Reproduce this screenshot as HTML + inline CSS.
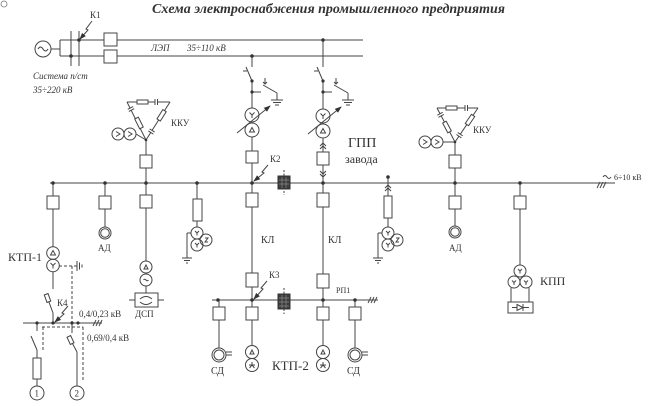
<!DOCTYPE html>
<html><head><meta charset="utf-8"><style>
html,body{margin:0;padding:0;background:#fff;}
svg{display:block;}
text{font-family:"Liberation Serif","DejaVu Serif",serif;fill:#333;stroke:none;}
</style></head><body>
<svg width="661" height="406" viewBox="0 0 661 406" xmlns="http://www.w3.org/2000/svg">
<defs>
<marker id="ah" markerWidth="7" markerHeight="6" refX="6" refY="3" orient="auto" markerUnits="userSpaceOnUse"><path d="M0,0.5 L7,3 L0,5.5 Z" fill="#333"/></marker>
</defs>

<text x="152" y="13" font-size="14" font-weight="bold" font-style="italic" textLength="353" lengthAdjust="spacingAndGlyphs">Схема электроснабжения промышленного предприятия</text>
<circle cx="4" cy="4" r="3" fill="none" stroke="#777" stroke-width="0.8"/>

<g stroke="#444" stroke-width="1" fill="none">
<!-- generator and LEP -->
<circle cx="43" cy="49" r="8"/>
<path d="M38,49 q2.5,-4 5,0 t5,0"/>
<line x1="51" y1="49" x2="60" y2="49"/>
<line x1="60" y1="40" x2="60" y2="56"/>
<line x1="60" y1="40" x2="104" y2="40"/>
<line x1="60" y1="56" x2="104" y2="56"/>
<line x1="71" y1="31" x2="71" y2="66"/>
<line x1="79" y1="31" x2="79" y2="66"/>
<rect x="104" y="33" width="13" height="13" fill="#fff"/>
<rect x="104" y="50" width="13" height="13" fill="#fff"/>
<line x1="117" y1="40" x2="363" y2="40"/>
<line x1="117" y1="56" x2="363" y2="56"/>
<polyline points="92,21 86,29 88,30 80,39" marker-end="url(#ah)"/>

<!-- GPP branch A x=252 -->
<line x1="252" y1="56" x2="252" y2="67"/>
<line x1="252" y1="81" x2="246" y2="67"/>
<line x1="243" y1="71" x2="247" y2="71"/>
<line x1="252" y1="81" x2="252" y2="108"/>
<line x1="252" y1="92" x2="261" y2="92"/>
<line x1="263" y1="85" x2="277" y2="93"/>
<line x1="277" y1="93" x2="277" y2="100"/>
<line x1="271" y1="100" x2="283" y2="100"/>
<line x1="273" y1="102.5" x2="281" y2="102.5"/>
<line x1="275" y1="105" x2="279" y2="105"/>
<line x1="265" y1="78" x2="265" y2="84"/>
<path d="M263,82 L265,84 L267,82"/>
<circle cx="252" cy="115" r="7"/>
<circle cx="252" cy="130" r="7"/>
<path d="M249.5,112.5 L252,115 L254.5,112.5 M252,115 L252,118"/>
<path d="M249.5,132 L252,127.5 L254.5,132 Z"/>
<line x1="237" y1="133" x2="270" y2="106" marker-end="url(#ah)"/>
<line x1="252" y1="137" x2="252" y2="151"/>
<rect x="246" y="151" width="12" height="12" fill="#fff"/>
<line x1="252" y1="163" x2="252" y2="183"/>
<polyline points="268,165 262,172 264,173 254,181" marker-end="url(#ah)"/>

<!-- GPP branch B x=323 -->
<line x1="323" y1="40" x2="323" y2="67"/>
<line x1="323" y1="81" x2="317" y2="67"/>
<line x1="314" y1="71" x2="318" y2="71"/>
<line x1="323" y1="81" x2="323" y2="109"/>
<line x1="323" y1="92" x2="332" y2="92"/>
<line x1="334" y1="85" x2="348" y2="93"/>
<line x1="348" y1="93" x2="348" y2="100"/>
<line x1="342" y1="100" x2="354" y2="100"/>
<line x1="344" y1="102.5" x2="352" y2="102.5"/>
<line x1="346" y1="105" x2="350" y2="105"/>
<line x1="336" y1="78" x2="336" y2="84"/>
<path d="M334,82 L336,84 L338,82"/>
<circle cx="323" cy="116" r="7"/>
<circle cx="323" cy="131" r="7"/>
<path d="M320.5,113.5 L323,116 L325.5,113.5 M323,116 L323,119"/>
<path d="M320.5,133 L323,128.5 L325.5,133 Z"/>
<line x1="308" y1="134" x2="341" y2="107" marker-end="url(#ah)"/>
<line x1="323" y1="138" x2="323" y2="152"/>
<path d="M320,146 L323,143 L326,146 M320,149 L323,146 L326,149"/>
<rect x="317" y="152" width="12" height="13" fill="#fff"/>
<line x1="323" y1="165" x2="323" y2="183"/>
<path d="M320,171 L323,174 L326,171 M320,174 L323,177 L326,174"/>

<!-- main bus -->
<line x1="50" y1="183" x2="615" y2="183"/>
<path d="M603,177 q2,-3 4,0 t4,0"/>
<line x1="597" y1="188" x2="600" y2="182"/>
<line x1="600" y1="188" x2="603" y2="182"/>
<line x1="603" y1="188" x2="606" y2="182"/>

<!-- left KKU -->
<line x1="127" y1="102" x2="170" y2="102"/>
<line x1="127" y1="102" x2="146" y2="140"/>
<line x1="170" y1="102" x2="146" y2="140"/>
<rect x="137" y="100" width="11" height="4" fill="#fff"/>
<rect x="155" y="100" width="2" height="4" fill="#fff" stroke="none"/>
<line x1="155" y1="99" x2="155" y2="105"/>
<line x1="157.5" y1="99" x2="157.5" y2="105"/>
<g transform="translate(131,109) rotate(63.4)"><rect x="-1.2" y="-1" width="2.4" height="2" fill="#fff" stroke="none"/><line x1="-1.2" y1="-3" x2="-1.2" y2="3"/><line x1="1.2" y1="-3" x2="1.2" y2="3"/></g>
<g transform="translate(139,123) rotate(63.4)"><rect x="-5.5" y="-2" width="11" height="4" fill="#fff"/></g>
<g transform="translate(161.6,115.3) rotate(122.3)"><rect x="-5.5" y="-2" width="11" height="4" fill="#fff"/></g>
<g transform="translate(151.5,131.5) rotate(122.3)"><rect x="-1.2" y="-1" width="2.4" height="2" fill="#fff" stroke="none"/><line x1="-1.2" y1="-3" x2="-1.2" y2="3"/><line x1="1.2" y1="-3" x2="1.2" y2="3"/></g>
<circle cx="118" cy="134" r="6"/>
<circle cx="130" cy="134" r="6"/>
<path d="M116,131.5 L120,134 L116,136.5 M128,131.5 L132,134 L128,136.5"/>
<line x1="136" y1="134" x2="146" y2="140"/>
<line x1="146" y1="140" x2="146" y2="155"/>
<rect x="140" y="155" width="12" height="13" fill="#fff"/>
<line x1="146" y1="168" x2="146" y2="183"/>

<!-- right KKU -->
<line x1="437" y1="108" x2="478" y2="108"/>
<line x1="437" y1="108" x2="455" y2="142"/>
<line x1="478" y1="108" x2="455" y2="142"/>
<rect x="446" y="106" width="11" height="4" fill="#fff"/>
<rect x="465" y="106" width="2" height="4" fill="#fff" stroke="none"/>
<line x1="465" y1="105" x2="465" y2="111"/>
<line x1="467.5" y1="105" x2="467.5" y2="111"/>
<g transform="translate(440.6,114.8) rotate(62.1)"><rect x="-1.2" y="-1" width="2.4" height="2" fill="#fff" stroke="none"/><line x1="-1.2" y1="-3" x2="-1.2" y2="3"/><line x1="1.2" y1="-3" x2="1.2" y2="3"/></g>
<g transform="translate(447,127) rotate(62.1)"><rect x="-5.5" y="-2" width="11" height="4" fill="#fff"/></g>
<g transform="translate(470,120) rotate(124.1)"><rect x="-5.5" y="-2" width="11" height="4" fill="#fff"/></g>
<g transform="translate(459.6,135.2) rotate(124.1)"><rect x="-1.2" y="-1" width="2.4" height="2" fill="#fff" stroke="none"/><line x1="-1.2" y1="-3" x2="-1.2" y2="3"/><line x1="1.2" y1="-3" x2="1.2" y2="3"/></g>
<circle cx="425" cy="142" r="6"/>
<circle cx="437" cy="142" r="6"/>
<path d="M423,139.5 L427,142 L423,144.5 M435,139.5 L439,142 L435,144.5"/>
<line x1="443" y1="142" x2="455" y2="142"/>
<line x1="455" y1="142" x2="455" y2="155"/>
<rect x="449" y="155" width="12" height="13" fill="#fff"/>
<line x1="455" y1="168" x2="455" y2="183"/>

<!-- column x=53 KTP-1 -->
<line x1="53" y1="183" x2="53" y2="196"/>
<rect x="47" y="196" width="12" height="13" fill="#fff"/>
<line x1="53" y1="209" x2="53" y2="247"/>
<circle cx="53" cy="253" r="6.3"/>
<circle cx="53" cy="265.5" r="6.3"/>
<path d="M50.5,255 L53,250.5 L55.5,255 Z"/>
<path d="M50.5,263 L53,265.5 L55.5,263 M53,265.5 L53,268.5"/>
<line x1="53" y1="272" x2="53" y2="289"/>
<line x1="53" y1="313" x2="46" y2="294"/>
<g transform="translate(47.5,298) rotate(-20)"><rect x="-2" y="-4" width="4" height="8" fill="#fff"/></g>
<line x1="53" y1="313" x2="53" y2="323"/>
<polyline points="68,306 62,313 64,314 55,322" marker-end="url(#ah)"/>
<line x1="23" y1="323" x2="102" y2="323"/>
<line x1="93" y1="326" x2="96" y2="320"/>
<line x1="96" y1="326" x2="99" y2="320"/>
<line x1="99" y1="326" x2="102" y2="320"/>
<g stroke-dasharray="3,2">
<line x1="59" y1="266" x2="77" y2="266"/>
<line x1="72" y1="266" x2="72" y2="323"/>
<line x1="42" y1="327" x2="83" y2="327"/>
<line x1="43" y1="327" x2="43" y2="352"/>
<line x1="83" y1="327" x2="83" y2="382"/>
</g>
<line x1="77" y1="261" x2="77" y2="271"/>
<line x1="79.5" y1="262.5" x2="79.5" y2="269.5"/>
<line x1="82" y1="264.5" x2="82" y2="267.5"/>
<!-- branch 1 -->
<line x1="37" y1="323" x2="37" y2="331"/>
<line x1="31" y1="336" x2="37" y2="350"/>
<line x1="37" y1="350" x2="37" y2="358"/>
<rect x="33" y="358" width="8" height="21" fill="#fff"/>
<line x1="37" y1="379" x2="37" y2="386"/>
<circle cx="37" cy="393" r="7"/>
<!-- branch 2 -->
<line x1="72" y1="323" x2="72" y2="333"/>
<line x1="69" y1="337" x2="77" y2="352"/>
<g transform="translate(70.5,340) rotate(-25)"><rect x="-2" y="-4" width="4" height="8" fill="#fff"/></g>
<line x1="77" y1="352" x2="77" y2="386"/>
<circle cx="77" cy="393" r="7"/>

<!-- column x=105 AD -->
<line x1="105" y1="183" x2="105" y2="196"/>
<rect x="99" y="196" width="12" height="13" fill="#fff"/>
<line x1="105" y1="209" x2="105" y2="227"/>
<circle cx="105" cy="233" r="6"/>
<circle cx="105" cy="233" r="4.3"/>

<!-- column x=146 DSP -->
<line x1="146" y1="183" x2="146" y2="195"/>
<rect x="140" y="195" width="12" height="13" fill="#fff"/>
<line x1="146" y1="208" x2="146" y2="261"/>
<circle cx="146" cy="267" r="6"/>
<circle cx="146" cy="280" r="6"/>
<path d="M144,269 L146,265 L148,269 Z"/>
<path d="M143.5,280 q1.2,-1.5 2.5,0 t2.5,0"/>
<line x1="146" y1="286" x2="146" y2="293"/>
<rect x="135" y="293" width="23" height="14" fill="#fff"/>
<line x1="129" y1="300" x2="135" y2="300"/>
<line x1="158" y1="300" x2="164" y2="300"/>
<path d="M140,299 q6,-5 12,0 M140,302 q6,5 12,0"/>

<!-- column x=197 -->
<line x1="197" y1="183" x2="197" y2="199"/>
<rect x="193" y="199" width="9" height="22" fill="#fff"/>
<line x1="197" y1="221" x2="197" y2="227"/>
<circle cx="197" cy="233" r="6"/>
<circle cx="197" cy="245" r="6"/>
<circle cx="206" cy="240" r="6"/>
<path d="M195,231 L197,233 L199,231 M197,233 L197,235.5"/>
<path d="M195,243 L197,245 L199,243 M197,245 L197,247.5"/>
<path d="M205,238 L208,238 L205,242 L208,242"/>
<line x1="187" y1="233" x2="191" y2="233"/>
<line x1="187" y1="233" x2="187" y2="258"/>
<line x1="182" y1="258" x2="192" y2="258"/>
<line x1="184" y1="260.5" x2="190" y2="260.5"/>
<line x1="186" y1="263" x2="188" y2="263"/>

<!-- KL lines -->
<line x1="252" y1="183" x2="252" y2="193"/>
<rect x="246" y="193" width="12" height="14" fill="#fff"/>
<line x1="252" y1="207" x2="252" y2="273"/>
<rect x="246" y="273" width="12" height="14" fill="#fff"/>
<line x1="252" y1="287" x2="252" y2="300"/>
<line x1="323" y1="183" x2="323" y2="193"/>
<rect x="317" y="193" width="12" height="14" fill="#fff"/>
<line x1="323" y1="207" x2="323" y2="274"/>
<rect x="317" y="274" width="12" height="14" fill="#fff"/>
<line x1="323" y1="288" x2="323" y2="300"/>
<polyline points="267,281 261,288 263,289 254,299" marker-end="url(#ah)"/>

<!-- RP1 bus -->
<line x1="212" y1="300" x2="378" y2="300"/>
<line x1="368" y1="303" x2="371" y2="297"/>
<line x1="371" y1="303" x2="374" y2="297"/>
<line x1="374" y1="303" x2="377" y2="297"/>

<!-- lower columns -->
<line x1="219" y1="300" x2="219" y2="307"/>
<rect x="213" y="307" width="12" height="13" fill="#fff"/>
<line x1="219" y1="320" x2="219" y2="348"/>
<circle cx="219" cy="355" r="7"/>
<circle cx="219" cy="355" r="5"/>
<line x1="226" y1="352" x2="232" y2="352"/>
<line x1="226" y1="355" x2="232" y2="355"/>

<line x1="252" y1="300" x2="252" y2="307"/>
<rect x="246" y="307" width="12" height="13" fill="#fff"/>
<line x1="252" y1="320" x2="252" y2="345"/>
<circle cx="252" cy="352" r="6.5"/>
<circle cx="252" cy="365" r="6.5"/>
<path d="M250,354 L252,350 L254,354 Z"/>
<path d="M249,365 L255,365 M252,365 L252,362 M252,365 L249.5,368 M252,365 L254.5,368"/>

<line x1="323" y1="300" x2="323" y2="307"/>
<rect x="317" y="307" width="12" height="13" fill="#fff"/>
<line x1="323" y1="320" x2="323" y2="345"/>
<circle cx="323" cy="352" r="6.5"/>
<circle cx="323" cy="365" r="6.5"/>
<path d="M321,354 L323,350 L325,354 Z"/>
<path d="M320,365 L326,365 M323,365 L323,362 M323,365 L320.5,368 M323,365 L325.5,368"/>

<line x1="355" y1="300" x2="355" y2="307"/>
<rect x="349" y="307" width="12" height="13" fill="#fff"/>
<line x1="355" y1="320" x2="355" y2="348"/>
<circle cx="355" cy="355" r="7"/>
<circle cx="355" cy="355" r="5"/>
<line x1="362" y1="352" x2="368" y2="352"/>
<line x1="362" y1="355" x2="368" y2="355"/>

<!-- column x=388 -->
<line x1="388" y1="177" x2="388" y2="196"/>
<path d="M385,188 L388,185 L391,188 M385,191 L388,188 L391,191"/>
<rect x="384" y="196" width="8" height="22" fill="#fff"/>
<line x1="388" y1="218" x2="388" y2="227"/>
<circle cx="388" cy="233" r="6"/>
<circle cx="388" cy="245" r="6"/>
<circle cx="397" cy="240" r="6"/>
<path d="M386,231 L388,233 L390,231 M388,233 L388,235.5"/>
<path d="M386,243 L388,245 L390,243 M388,245 L388,247.5"/>
<path d="M396,238 L399,238 L396,242 L399,242"/>
<line x1="378" y1="233" x2="382" y2="233"/>
<line x1="378" y1="233" x2="378" y2="258"/>
<line x1="373" y1="258" x2="383" y2="258"/>
<line x1="375" y1="260.5" x2="381" y2="260.5"/>
<line x1="377" y1="263" x2="379" y2="263"/>

<!-- column x=455 AD -->
<line x1="455" y1="183" x2="455" y2="196"/>
<rect x="449" y="196" width="12" height="13" fill="#fff"/>
<line x1="455" y1="209" x2="455" y2="226"/>
<circle cx="455" cy="232" r="6"/>
<circle cx="455" cy="232" r="4.3"/>

<!-- column x=520 KPP -->
<line x1="520" y1="183" x2="520" y2="196"/>
<rect x="514" y="196" width="12" height="13" fill="#fff"/>
<line x1="520" y1="209" x2="520" y2="265"/>
<circle cx="520" cy="271" r="6"/>
<circle cx="514" cy="282" r="6"/>
<circle cx="526" cy="282" r="6"/>
<path d="M518,269 L520,271 L522,269 M520,271 L520,273.5"/>
<path d="M512,280.5 L514,282.5 L516,280.5 M514,282.5 L514,285"/>
<path d="M524,280.5 L526,282.5 L528,280.5 M526,282.5 L526,285"/>
<line x1="511" y1="288" x2="511" y2="302"/>
<line x1="529" y1="288" x2="529" y2="302"/>
<rect x="508" y="302" width="25" height="11" fill="#fff"/>
<line x1="512" y1="307.5" x2="517" y2="307.5"/>
<path d="M517,304.5 L523,307.5 L517,310.5 Z"/>
<line x1="523" y1="304" x2="523" y2="311"/>
<line x1="523" y1="307.5" x2="529" y2="307.5"/>
</g>

<!-- sectional breakers -->
<g>
<line x1="284" y1="170" x2="284" y2="195" stroke="#444" stroke-dasharray="2,1.5"/>
<rect x="278" y="176" width="12" height="13" fill="#3c3c3c" stroke="#333"/>
<path d="M282,177 V188 M286,177 V188 M279,180 H289 M279,184 H289" stroke="#888" stroke-width="0.7"/>
<line x1="284" y1="288" x2="284" y2="314" stroke="#444" stroke-dasharray="2,1.5"/>
<rect x="278" y="294" width="12" height="15" fill="#3c3c3c" stroke="#333"/>
<path d="M282,295 V308 M286,295 V308 M279,298 H289 M279,302 H289 M279,306 H289" stroke="#888" stroke-width="0.7"/>
</g>

<!-- dots -->
<g fill="#333">
<circle cx="79" cy="40" r="1.8"/><circle cx="71" cy="56" r="1.8"/>
<circle cx="252" cy="56" r="1.8"/><circle cx="323" cy="40" r="1.8"/>
<circle cx="252" cy="81" r="1.6"/><circle cx="252" cy="92" r="1.6"/>
<circle cx="323" cy="81" r="1.6"/><circle cx="323" cy="92" r="1.6"/>
<circle cx="53" cy="183" r="1.8"/><circle cx="105" cy="183" r="1.8"/>
<circle cx="146" cy="183" r="1.8"/><circle cx="197" cy="183" r="1.8"/>
<circle cx="252" cy="183" r="1.8"/><circle cx="323" cy="183" r="1.8"/>
<circle cx="388" cy="177" r="1.8"/><circle cx="455" cy="183" r="1.8"/>
<circle cx="520" cy="183" r="1.8"/><circle cx="146" cy="140" r="1.3"/>
<circle cx="455" cy="142" r="1.3"/>
<circle cx="218" cy="300" r="1.8"/><circle cx="252" cy="300" r="1.8"/>
<circle cx="323" cy="300" r="1.8"/><circle cx="355" cy="300" r="1.8"/>
<circle cx="37" cy="323" r="1.6"/><circle cx="53" cy="323" r="1.6"/>
<circle cx="72" cy="323" r="1.6"/><circle cx="78" cy="323" r="1.6"/>
</g>

<!-- labels -->
<text x="90" y="18" font-size="9">К1</text>
<text x="151" y="51" font-size="9" font-style="italic">ЛЭП</text>
<text x="187" y="51" font-size="9" font-style="italic">35÷110 кВ</text>
<text x="33" y="79" font-size="9" font-style="italic">Система п/ст</text>
<text x="33" y="93" font-size="9" font-style="italic">35÷220 кВ</text>
<text x="171" y="126" font-size="9">ККУ</text>
<text x="473" y="133" font-size="9">ККУ</text>
<text x="270" y="162" font-size="9">К2</text>
<text x="348" y="147" font-size="14">ГПП</text>
<text x="345" y="163" font-size="12">завода</text>
<text x="614" y="180" font-size="8">6÷10 кВ</text>
<text x="98" y="251" font-size="9">АД</text>
<text x="449" y="251" font-size="9">АД</text>
<text x="8" y="261" font-size="12">КТП-1</text>
<text x="135" y="317" font-size="9">ДСП</text>
<text x="261" y="243" font-size="10">КЛ</text>
<text x="328" y="243" font-size="10">КЛ</text>
<text x="269" y="278" font-size="9">К3</text>
<text x="336" y="293" font-size="8">РП1</text>
<text x="211" y="374" font-size="10">СД</text>
<text x="347" y="374" font-size="10">СД</text>
<text x="272" y="370" font-size="13">КТП-2</text>
<text x="540" y="285" font-size="12">КПП</text>
<text x="57" y="306" font-size="9">К4</text>
<text x="79" y="317" font-size="9">0,4/0,23 кВ</text>
<text x="87" y="341" font-size="9">0,69/0,4 кВ</text>
<text x="34.5" y="396.5" font-size="9">1</text>
<text x="74.5" y="396.5" font-size="9">2</text>
</svg>
</body></html>
